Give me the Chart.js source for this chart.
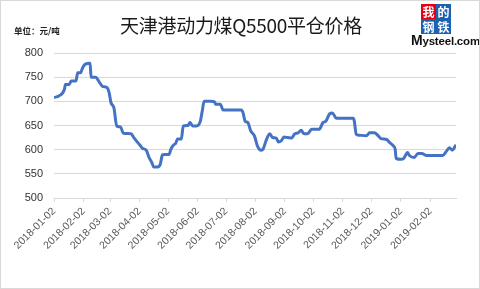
<!DOCTYPE html>
<html>
<head>
<meta charset="utf-8">
<script src="https://cdn.jsdelivr.net/npm/chart.js@4"></script>
<style>
    html, body { margin: 0; padding: 0; background: #fff; }
    #wrap {
        position: relative;
        width: 480px;
        height: 289px;
        box-sizing: border-box;
        border: 1px solid #d9d9d9;
        overflow: hidden;
    }
    #chart { position: absolute; left: 0; top: 0; }
    .title {
        position: absolute; left: 0; width: 480px; top: 10px;
        text-align: center;
        font: 19px "Noto Sans CJK SC", sans-serif;
        color: #1a1a1a;
        letter-spacing: -0.3px;
    }
    .unit {
        position: absolute; left: 13px; top: 23px;
        font: bold 8.5px "Noto Sans CJK SC", sans-serif;
        color: #222;
    }
    .logo-box {
        position: absolute; width: 15px; height: 15px;
        color: #fff; text-align: center;
        font: bold 12px/15px "Noto Sans CJK SC", serif;
    }
    .logo-text {
        position: absolute; left: 410px; top: 31px;
        font: bold 11.5px "Liberation Sans", Arial, sans-serif;
        color: #111;
        letter-spacing: -0.2px;
    }
</style>
</head>
<body>
<div id="wrap">
    <canvas id="chart" width="480" height="289"></canvas>
    <div class="title">天津港动力煤Q5500平仓价格</div>
    <div class="unit">单位：元/吨</div>
    <div class="logo-box" style="left:420px;top:3px;background:#e60012;">我</div>
    <div class="logo-box" style="left:435px;top:3px;background:#1d62b0;">的</div>
    <div class="logo-box" style="left:420px;top:18px;background:#1d62b0;">钢</div>
    <div class="logo-box" style="left:435px;top:18px;background:#1d62b0;">铁</div>
    <div class="logo-text"><span style="font-size:14px">M</span>ysteel.com</div>
</div>
<script>
// =============================================================================
// DATA
// =============================================================================

const dates = [
    '2018-01-02', '2018-01-07', '2018-01-13', '2018-01-14', '2018-01-18', '2018-01-20',
    '2018-01-25', '2018-01-27', '2018-01-30', '2018-02-01', '2018-02-04', '2018-02-09',
    '2018-02-10', '2018-02-15', '2018-02-18', '2018-02-22', '2018-02-27', '2018-03-01',
    '2018-03-03', '2018-03-06', '2018-03-09', '2018-03-13', '2018-03-16', '2018-03-24',
    '2018-03-27', '2018-03-31', '2018-04-03', '2018-04-05', '2018-04-09', '2018-04-12',
    '2018-04-15', '2018-04-17', '2018-04-21', '2018-04-24', '2018-04-26', '2018-04-28',
    '2018-05-03', '2018-05-05', '2018-05-08', '2018-05-10', '2018-05-12', '2018-05-16',
    '2018-05-18', '2018-05-23', '2018-05-25', '2018-05-28', '2018-06-01', '2018-06-05',
    '2018-06-07', '2018-06-09', '2018-06-16', '2018-06-20', '2018-06-21', '2018-06-26',
    '2018-06-29', '2018-07-18', '2018-07-20', '2018-07-22', '2018-07-25', '2018-07-28',
    '2018-08-01', '2018-08-04', '2018-08-08', '2018-08-10', '2018-08-13', '2018-08-17',
    '2018-08-20', '2018-08-24', '2018-08-26', '2018-08-29', '2018-09-01', '2018-09-05',
    '2018-09-09', '2018-09-12', '2018-09-16', '2018-09-19', '2018-09-22', '2018-09-26',
    '2018-09-30', '2018-10-08', '2018-10-12', '2018-10-15', '2018-10-19', '2018-10-22',
    '2018-10-26', '2018-11-13', '2018-11-14', '2018-11-16', '2018-11-19', '2018-11-27',
    '2018-11-30', '2018-12-05', '2018-12-09', '2018-12-12', '2018-12-18', '2018-12-21',
    '2018-12-25', '2018-12-27', '2018-12-28', '2019-01-02', '2019-01-05', '2019-01-09',
    '2019-01-11', '2019-01-16', '2019-01-20', '2019-01-24', '2019-01-29', '2019-02-15',
    '2019-02-19', '2019-02-22', '2019-02-25', '2019-03-01'
];

const prices = [
    708, 711, 725, 735, 735, 742,
    742, 759, 759, 769, 777, 779,
    750, 750, 742, 731, 728, 718,
    697, 687, 649, 647, 634, 633,
    625, 615, 608, 603, 599, 584,
    573, 564, 564, 571, 589, 590,
    590, 601, 610, 613, 622, 622,
    649, 650, 656, 649, 649, 659,
    680, 700, 700, 699, 694, 694,
    682, 682, 676, 659, 656, 639,
    628, 608, 599, 601, 618, 633,
    625, 624, 616, 618, 626, 625,
    624, 632, 635, 640, 633, 633,
    642, 642, 656, 659, 674, 676,
    665, 665, 659, 632, 630, 629,
    635, 635, 629, 623, 621, 615,
    608, 601, 582, 580, 582, 594,
    588, 584, 592, 592, 588, 588,
    597, 604, 599, 610
];

const tickLabels = [
    '2018-01-02', '2018-02-02', '2018-03-02', '2018-04-02', '2018-05-02',
    '2018-06-02', '2018-07-02', '2018-08-02', '2018-09-02', '2018-10-02',
    '2018-11-02', '2018-12-02', '2019-01-02', '2019-02-02'
];

const yMin = 500;
const yMax = 800;
const yStep = 50;

// =============================================================================
// HELPERS
// =============================================================================

const DAY = 86400000;
const origin = Date.parse(dates[0] + 'T00:00:00Z');

function dayOf(d) {
    return Math.round((Date.parse(d + 'T00:00:00Z') - origin) / DAY);
}

const points = dates.map((d, i) => ({ x: dayOf(d), y: prices[i] }));

const colors = {
    line: '#4472c4',
    grid: '#d9d9d9',
    yText: '#333333',
    xText: '#595959'
};

// =============================================================================
// CHART
// =============================================================================

const ctx = document.getElementById('chart').getContext('2d');

new Chart(ctx, {
    type: 'line',
    data: {
        datasets: [{
            data: points,
            borderColor: colors.line,
            borderWidth: 3,
            pointRadius: 0,
            cubicInterpolationMode: 'monotone',
            fill: false
        }]
    },
    options: {
        responsive: false,
        animation: false,
        layout: {
            padding: { left: 0, right: 25, top: 52, bottom: 0 }
        },
        plugins: {
            legend: { display: false },
            tooltip: { enabled: false }
        },
        scales: {
            x: {
                type: 'linear',
                min: 0,
                max: dayOf(dates[dates.length - 1]),
                afterBuildTicks: (scale) => {
                    scale.ticks = tickLabels.map(d => ({ value: dayOf(d) }));
                },
                afterFit: (scale) => { scale.height = 92; },
                grid: {
                    drawOnChartArea: false,
                    drawTicks: true,
                    tickLength: 4,
                    color: colors.grid
                },
                border: { display: true, color: colors.grid },
                ticks: {
                    autoSkip: false,
                    minRotation: 45,
                    maxRotation: 45,
                    padding: 3,
                    color: colors.xText,
                    font: { family: 'Liberation Sans', size: 10.5 },
                    callback: (value, index) => tickLabels[index]
                }
            },
            y: {
                min: yMin,
                max: yMax,
                afterFit: (scale) => { scale.width = 53; },
                grid: {
                    color: colors.grid,
                    drawTicks: false
                },
                border: { display: false },
                ticks: {
                    stepSize: yStep,
                    padding: 11,
                    color: colors.yText,
                    font: { family: 'Liberation Sans', size: 11 }
                }
            }
        }
    }
});
</script>
</body>
</html>
